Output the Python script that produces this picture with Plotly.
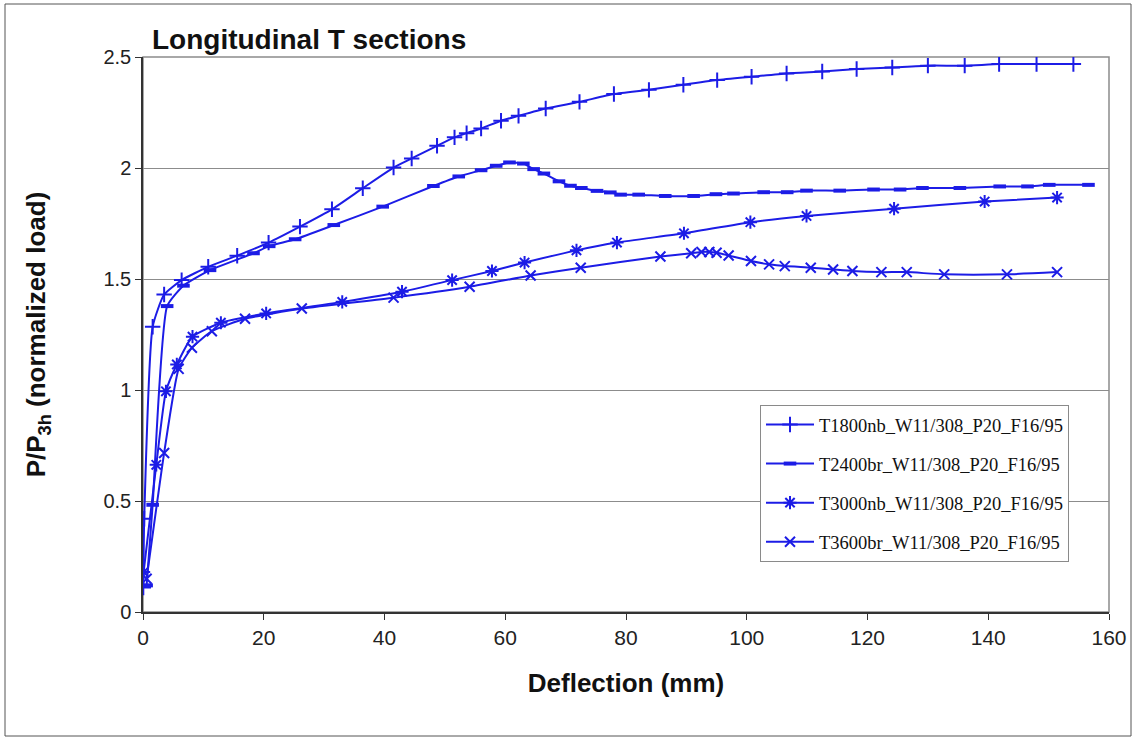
import plotly.graph_objects as go

# ---------------- data ----------------
names = ["T1800nb_W11/308_P20_F16/95", "T2400br_W11/308_P20_F16/95",
         "T3000nb_W11/308_P20_F16/95", "T3600br_W11/308_P20_F16/95"]

x1 = [0.05, 0.2, 1.6, 3.5, 6.4, 10.8, 15.6, 20.8, 26.0, 31.3, 36.4, 41.5, 44.5, 48.7, 51.6,
      53.6, 56.0, 59.3, 62.2, 66.7, 72.3, 78.0, 83.8, 89.5, 95.1, 100.8, 106.6, 112.5, 118.2,
      124.1, 130.0, 136.1, 141.8, 148.0, 154.1]
y1 = [0.11, 0.42, 1.285, 1.43, 1.495, 1.555, 1.605, 1.664, 1.736, 1.814, 1.909, 2.002, 2.043,
      2.1, 2.138, 2.157, 2.178, 2.213, 2.235, 2.268, 2.298, 2.333, 2.352, 2.375, 2.396, 2.411,
      2.426, 2.435, 2.446, 2.453, 2.461, 2.461, 2.468, 2.468, 2.468]

x2 = [0.6, 1.6, 4.0, 6.7, 11.1, 18.3, 20.9, 25.2, 31.6, 39.7, 48.1, 52.3, 56.0, 58.5, 60.7,
      63.0, 64.7, 66.4, 68.9, 70.8, 72.6, 75.2, 77.4, 79.1, 82.1, 86.5, 91.2, 94.9, 97.8, 102.8,
      106.7, 109.9, 115.4, 121.0, 125.4, 129.1, 135.3, 141.9, 146.5, 150.1, 156.6]
y2 = [0.12, 0.483, 1.378, 1.47, 1.54, 1.616, 1.648, 1.679, 1.743, 1.826, 1.919, 1.962, 1.99,
      2.01, 2.025, 2.02, 1.995, 1.975, 1.94, 1.92, 1.91, 1.897, 1.89, 1.88, 1.88, 1.874, 1.874,
      1.882, 1.885, 1.891, 1.891, 1.898, 1.898, 1.903, 1.903, 1.91, 1.91, 1.917, 1.917, 1.924,
      1.924]

x3 = [0.1, 2.2, 3.8, 5.6, 8.2, 12.9, 20.4, 33.0, 42.9, 51.2, 57.8, 63.2, 71.8, 78.5, 89.6,
      100.6, 109.9, 124.4, 139.4, 151.4]
y3 = [0.18, 0.663, 0.994, 1.115, 1.24, 1.303, 1.345, 1.397, 1.443, 1.495, 1.536, 1.574, 1.629,
      1.664, 1.706, 1.756, 1.784, 1.817, 1.849, 1.867]

x4 = [0.6, 3.5, 5.9, 8.1, 11.4, 16.9, 26.3, 41.5, 54.1, 64.2, 72.5, 85.7, 90.8, 92.5, 93.8,
      95.0, 97.0, 100.7, 103.7, 106.3, 110.6, 114.3, 117.5, 122.3, 126.5, 132.7, 143.1, 151.4]
y4 = [0.15, 0.716, 1.095, 1.19, 1.265, 1.321, 1.367, 1.416, 1.465, 1.516, 1.551, 1.601, 1.616,
      1.622, 1.622, 1.618, 1.606, 1.581, 1.566, 1.558, 1.551, 1.543, 1.536, 1.531, 1.531, 1.521,
      1.521, 1.531]

xticks = [0, 20, 40, 60, 80, 100, 120, 140, 160]
yticks = [0, 0.5, 1, 1.5, 2, 2.5]
yticklabels = ["0", "0.5", "1", "1.5", "2", "2.5"]

# ---------------- styling ----------------
BLUE = "#1c1ce6"
W, H = 1139, 740
L, R, T, B = 143, 30, 57, 128
PW, PH = W - L - R, H - T - B

symbols = ["cross-thin", "line-ew", "asterisk", "x-thin"]
msizes = [11, 9, 11, 10]
mwidths = [2, 4, 2, 2]

fig = go.Figure()
for i, (xs, ys) in enumerate([(x1, y1), (x2, y2), (x3, y3), (x4, y4)]):
    fig.add_trace(go.Scatter(
        x=xs, y=ys, name=names[i], mode="lines+markers",
        legendgroup=f"g{i}",
        line=dict(color=BLUE, width=2, shape="spline", smoothing=0.5),
        marker=dict(symbol=symbols[i], size=msizes[i], color=BLUE,
                    line=dict(color=BLUE, width=mwidths[i])),
    ))

def px_x(p):
    return (p - L) / PW

def px_y(p):
    return (H - B - p) / PH

fig.update_layout(
    width=W, height=H,
    margin=dict(l=L, r=R, t=T, b=B),
    paper_bgcolor="white", plot_bgcolor="white",
    showlegend=True,
    legend=dict(x=px_x(760), y=px_y(405), xanchor="left", yanchor="top",
                bgcolor="white", bordercolor="#8a8a8a", borderwidth=1,
                font=dict(family="Liberation Serif, Times New Roman, serif", size=18.5, color="#111"),
                tracegroupgap=12, itemwidth=48),
    xaxis=dict(range=[0, 160], tickvals=xticks, showgrid=False, zeroline=False,
               showline=True, linecolor="#333", linewidth=1.5,
               ticks="outside", ticklen=6, tickcolor="#333",
               tickfont=dict(family="Liberation Sans, Arial", size=21, color="#222"),
               title=dict(text="<b>Deflection (mm)</b>", standoff=26,
                          font=dict(family="Liberation Sans, Arial", size=26, color="#111"))),
    yaxis=dict(range=[0, 2.5], tickvals=yticks, ticktext=yticklabels,
               showgrid=True, gridcolor="#8c8c8c", gridwidth=1, zeroline=False,
               showline=True, linecolor="#333", linewidth=1.5,
               ticks="outside", ticklen=6, tickcolor="#333",
               tickfont=dict(family="Liberation Sans, Arial", size=20, color="#222"),
               title=dict(text="<b>P/P<sub>3h</sub> (normalized load)</b>", standoff=50,
                          font=dict(family="Liberation Sans, Arial", size=26, color="#111"))),
    shapes=[
        dict(type="rect", xref="x domain", yref="y domain", x0=0, x1=1, y0=0, y1=1,
             line=dict(color="#8c8c8c", width=1.5), layer="below"),
        dict(type="rect", xref="paper", yref="paper",
             x0=px_x(5), x1=px_x(1131), y0=px_y(736), y1=px_y(4),
             line=dict(color="#555", width=1), layer="below"),
    ],
    annotations=[
        dict(text="<b>Longitudinal T sections</b>", xref="paper", yref="paper",
             x=px_x(150), y=px_y(39), xanchor="left", yanchor="middle", showarrow=False,
             font=dict(family="Liberation Sans, Arial", size=28, color="#111")),
    ],
)

fig.write_html("out.html")
